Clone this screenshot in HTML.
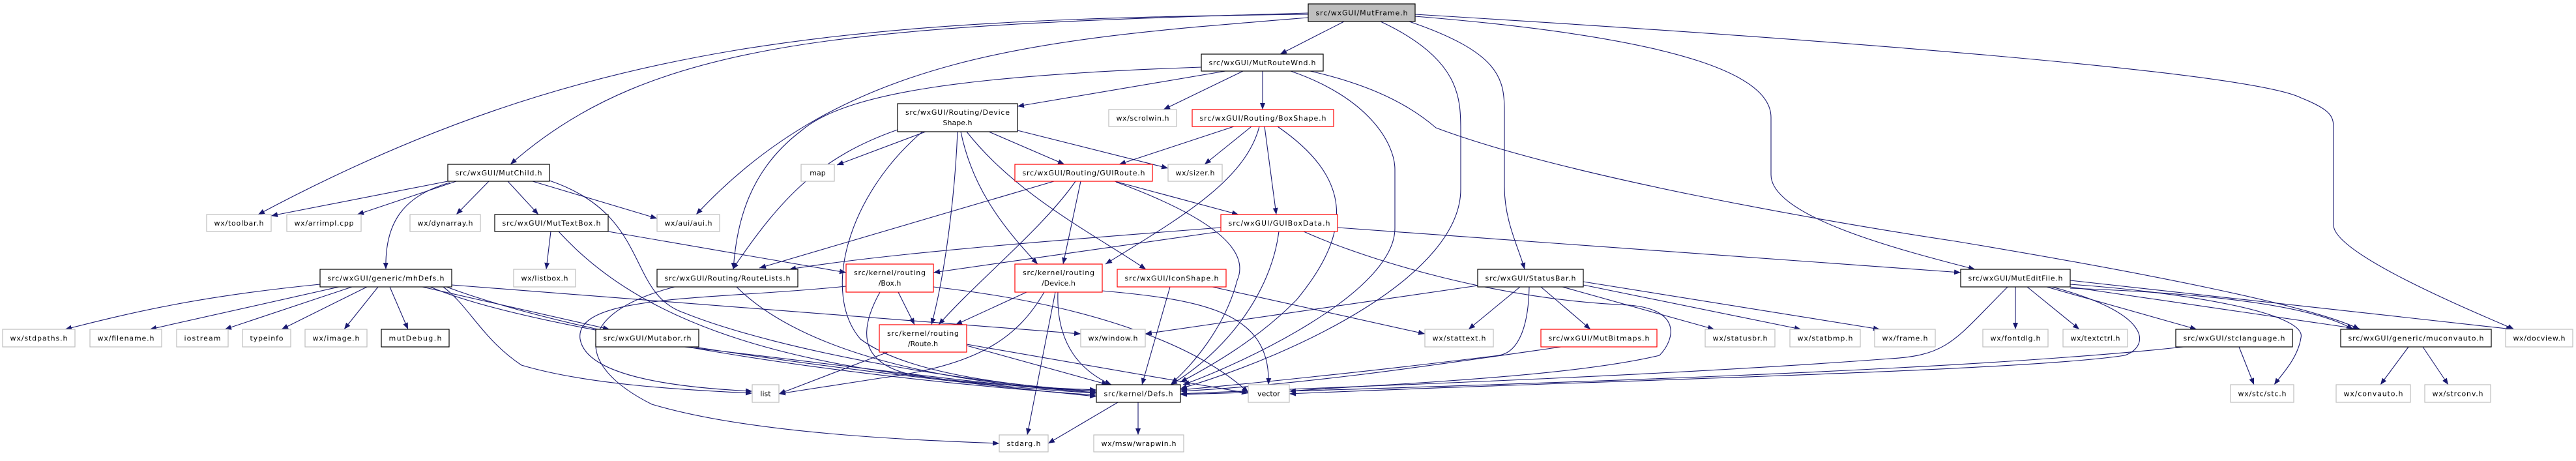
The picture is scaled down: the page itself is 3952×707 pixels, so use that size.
<!DOCTYPE html>
<html><head><meta charset="utf-8"><style>
html,body{margin:0;padding:0;background:#fff;width:3952px;height:707px;overflow:hidden}
svg text{font-family:"DejaVu Sans","Liberation Sans",sans-serif;font-size:11px;fill:#000}
.e{fill:none;stroke:#191970;stroke-width:1.1;marker-end:url(#a)}
.b{fill:#fff;stroke:#000;stroke-width:1.2}
.g{fill:#fff;stroke:#bfbfbf;stroke-width:1.2}
.r{fill:#fff;stroke:#ff0000;stroke-width:1.2}
.m{fill:#bfbfbf;stroke:#000;stroke-width:1.2}
</style></head><body>
<svg width="3952" height="707" viewBox="0 0 3952 707" xmlns="http://www.w3.org/2000/svg">
<defs><marker id="a" markerWidth="10" markerHeight="8" refX="10" refY="4" orient="auto" markerUnits="userSpaceOnUse"><path d="M0,0 L10,4 L0,8 z" fill="#191970"/></marker></defs>
<g>
<!-- MutFrame edges -->
<path class="e" d="M2062,33 L1964,83"/>
<path class="e" d="M2007,20 C1300,40 1000,60 783,252"/>
<path class="e" d="M2007,22 C1300,30 900,60 396,329"/>
<path class="e" d="M2007,27 C1600,60 1300,80 1068,329"/>
<path class="e" d="M2118,33 C2240,90 2241,150 2241,200 L2241,290 C2241,420 2000,540 1811,596"/>
<path class="e" d="M2162,33 C2300,80 2308,120 2308,170 L2308,286 C2308,340 2330,380 2339,413"/>
<path class="e" d="M2171,25 C2600,60 2717,120 2717,180 L2717,268 C2717,330 2900,380 3030,413"/>
<path class="e" d="M2171,22 C2800,60 3450,110 3530,150 C3580,170 3580,180 3580,200 L3580,345 C3580,390 3800,480 3857,505"/>
<!-- MutRouteWnd -->
<path class="e" d="M1880,109 L1561,163"/>
<path class="e" d="M1843,103 C1500,115 1300,140 1230,200 C1150,260 1130,340 1125,413"/>
<path class="e" d="M1907,109 L1785,168"/>
<path class="e" d="M1937,109 L1937,168"/>
<path class="e" d="M1980,109 C2100,150 2140,220 2140,260 L2140,350 C2140,450 1900,560 1815,590"/>
<path class="e" d="M2010,109 C2080,125 2150,150 2203,196 C2400,270 2800,340 3000,370 C3300,420 3550,470 3620,505"/>
<!-- DeviceShape -->
<path class="e" d="M1420,202 L1284,253"/>
<path class="e" d="M1377,199 C1260,240 1200,300 1124,413"/>
<path class="e" d="M1469,202 C1465,300 1450,420 1429,498"/>
<path class="e" d="M1517,202 L1633,252"/>
<path class="e" d="M1561,200 L1792,258"/>
<path class="e" d="M1474,202 C1490,280 1530,340 1592,405"/>
<path class="e" d="M1483,202 C1560,300 1680,360 1758,413"/>
<path class="e" d="M1415,202 C1300,300 1260,450 1320,520 C1400,580 1600,595 1682,600"/>
<!-- BoxShape -->
<path class="e" d="M1893,194 L1717,252"/>
<path class="e" d="M1920,194 L1848,252"/>
<path class="e" d="M1932,194 C1910,280 1800,340 1696,405"/>
<path class="e" d="M1940,194 L1958,329"/>
<path class="e" d="M1960,194 C2070,270 2080,350 1989,460 C1930,520 1860,560 1811,586"/>
<!-- GUIRoute -->
<path class="e" d="M1617,278 L1165,411"/>
<path class="e" d="M1650,278 C1600,350 1500,430 1440,498"/>
<path class="e" d="M1658,278 L1631,405"/>
<path class="e" d="M1710,278 L1900,329"/>
<path class="e" d="M1712,279 C1850,330 1920,380 1898,430 C1880,500 1830,560 1797,588"/>
<!-- GUIBoxData -->
<path class="e" d="M1873,355 L1432,418"/>
<path class="e" d="M1873,349 C1600,370 1350,390 1211,413"/>
<path class="e" d="M2052,349 L3008,418"/>
<path class="e" d="M1962,355 C1950,450 1880,540 1796,590"/>
<path class="e" d="M2000,355 C2100,400 2300,460 2500,468 C2580,475 2570,520 2546,545 C2400,580 2100,590 1978,600"/>
<!-- Device -->
<path class="e" d="M1575,448 L1466,498"/>
<path class="e" d="M1602,448 C1560,520 1500,560 1350,580 L1195,604"/>
<path class="e" d="M1619,448 L1576,667"/>
<path class="e" d="M1623,448 C1620,530 1660,570 1705,590"/>
<path class="e" d="M1691,446 C1850,460 1950,480 1946,590"/>
<!-- IconShape -->
<path class="e" d="M1795,440 L1752,590"/>
<path class="e" d="M1860,440 L2186,512"/>
<!-- Box -->
<path class="e" d="M1378,448 L1403,498"/>
<path class="e" d="M1350,448 C1310,520 1330,560 1400,575 C1500,590 1600,598 1682,603"/>
<path class="e" d="M1298,439 C1100,460 880,450 890,520 C900,580 1050,595 1154,600"/>
<path class="e" d="M1432,440 C1700,470 1850,540 1915,602"/>
<!-- RouteLists -->
<path class="e" d="M1035,440 C880,480 880,560 1000,620 C1150,665 1400,675 1533,680"/>
<path class="e" d="M1130,440 C1230,540 1450,590 1682,600"/>
<!-- MutTextBox -->
<path class="e" d="M845,355 L838,413"/>
<path class="e" d="M933,355 L1298,418"/>
<path class="e" d="M857,355 C980,490 1200,580 1682,598"/>
<!-- MutChild -->
<path class="e" d="M687,278 L416,331"/>
<path class="e" d="M700,278 L548,329"/>
<path class="e" d="M750,278 L700,329"/>
<path class="e" d="M779,278 L826,329"/>
<path class="e" d="M817,278 L1008,335"/>
<path class="e" d="M690,280 C620,300 590,340 592,413"/>
<path class="e" d="M843,277 C1000,330 960,450 1050,480 C1200,540 1500,590 1682,600"/>
<!-- mhDefs -->
<path class="e" d="M491,436 C300,455 200,480 100,505"/>
<path class="e" d="M520,440 L230,505"/>
<path class="e" d="M540,440 L345,505"/>
<path class="e" d="M563,440 L432,505"/>
<path class="e" d="M580,440 L528,505"/>
<path class="e" d="M598,440 L626,505"/>
<path class="e" d="M648,440 L935,505"/>
<path class="e" d="M693,437 L1658,512"/>
<path class="e" d="M680,440 C720,470 740,520 800,560 C900,590 1050,598 1154,603"/>
<path class="e" d="M685,440 C900,520 1300,580 1682,606"/>
<path class="e" d="M660,440 C800,500 1200,560 1682,608"/>
<path class="e" d="M1050,532 C1300,560 1500,590 1682,602"/>
<!-- Route -->
<path class="e" d="M1362,540 L1195,604"/>
<path class="e" d="M1483,530 L1700,590"/>
<path class="e" d="M1483,528 L1915,603"/>
<!-- Defs -->
<path class="e" d="M1715,617 L1608,680"/>
<path class="e" d="M1746,617 L1746,667"/>
<!-- StatusBar -->
<path class="e" d="M2267,438 L1757,512"/>
<path class="e" d="M2332,440 L2253,505"/>
<path class="e" d="M2346,440 C2345,500 2330,540 2300,545 C2100,570 1900,590 1811,598"/>
<path class="e" d="M2364,440 L2440,505"/>
<path class="e" d="M2397,440 L2630,505"/>
<path class="e" d="M2429,437 L2763,505"/>
<path class="e" d="M2429,432 L2884,505"/>
<path class="e" d="M2395,532 C2200,560 2000,590 1811,600"/>
<!-- MutEditFile -->
<path class="e" d="M3080,440 C3000,520 2990,545 2900,550 C2500,580 2000,595 1811,604"/>
<path class="e" d="M3092,440 L3092,505"/>
<path class="e" d="M3110,440 L3190,505"/>
<path class="e" d="M3140,440 L3370,505"/>
<path class="e" d="M3148,440 C3300,480 3300,530 3260,545 C3100,570 2400,585 1978,604"/>
<path class="e" d="M3176,436 C3350,448 3540,480 3530,518 C3525,550 3500,575 3489,590"/>
<path class="e" d="M3176,440 L3622,505"/>
<path class="e" d="M3176,442 C3400,450 3550,470 3610,505"/>
<path class="e" d="M3176,430 L3855,505"/>
<path class="e" d="M3435,532 L3458,590"/>
<path class="e" d="M3350,532 C3000,570 2300,590 1811,605"/>
<path class="e" d="M3695,532 L3652,590"/>
<path class="e" d="M3717,532 L3756,590"/>
</g>
<g>
<rect class="m" x="2007" y="6" width="164" height="27"/><text x="2089" y="23.5" text-anchor="middle" textLength="141">src/wxGUI/MutFrame.h</text>
<rect class="b" x="1843" y="83" width="187" height="26"/><text x="1936.5" y="100" text-anchor="middle" textLength="164">src/wxGUI/MutRouteWnd.h</text>
<rect class="b" x="687" y="252" width="156" height="26"/><text x="765" y="269" text-anchor="middle" textLength="133">src/wxGUI/MutChild.h</text>
<rect class="g" x="317" y="329" width="99" height="26"/><text x="366.5" y="346" text-anchor="middle" textLength="76">wx/toolbar.h</text>
<rect class="g" x="440" y="329" width="114" height="26"/><text x="497" y="346" text-anchor="middle" textLength="91">wx/arrimpl.cpp</text>
<rect class="g" x="629" y="329" width="108" height="26"/><text x="683" y="346" text-anchor="middle" textLength="85">wx/dynarray.h</text>
<rect class="b" x="759" y="329" width="174" height="26"/><text x="846" y="346" text-anchor="middle" textLength="151">src/wxGUI/MutTextBox.h</text>
<rect class="g" x="1008" y="329" width="96" height="26"/><text x="1056" y="346" text-anchor="middle" textLength="73">wx/aui/aui.h</text>
<rect class="b" x="491" y="413" width="202" height="27"/><text x="592" y="430.5" text-anchor="middle" textLength="179">src/wxGUI/generic/mhDefs.h</text>
<rect class="g" x="788" y="413" width="95" height="27"/><text x="835.5" y="430.5" text-anchor="middle" textLength="72">wx/listbox.h</text>
<rect class="b" x="1008" y="413" width="216" height="27"/><text x="1116" y="430.5" text-anchor="middle" textLength="193">src/wxGUI/Routing/RouteLists.h</text>
<rect class="r" x="1298" y="405" width="134" height="43"/><text x="1365" y="422" text-anchor="middle" textLength="110">src/kernel/routing</text><text x="1365" y="438" text-anchor="middle">/Box.h</text>
<rect class="b" x="914" y="505" width="158" height="27"/><text x="993" y="522.5" text-anchor="middle" textLength="135">src/wxGUI/Mutabor.rh</text>
<rect class="r" x="1349" y="498" width="134" height="42"/><text x="1416" y="515" text-anchor="middle" textLength="110">src/kernel/routing</text><text x="1416" y="531" text-anchor="middle">/Route.h</text>
<rect class="g" x="1154" y="590" width="41" height="27"/><text x="1174.5" y="607.5" text-anchor="middle">list</text>
<rect class="b" x="1377" y="159" width="184" height="43"/><text x="1469" y="176" text-anchor="middle" textLength="160">src/wxGUI/Routing/Device</text><text x="1469" y="192" text-anchor="middle">Shape.h</text>
<rect class="g" x="1229" y="252" width="51" height="26"/><text x="1254.5" y="269" text-anchor="middle">map</text>
<rect class="g" x="1701" y="168" width="104" height="26"/><text x="1753" y="185" text-anchor="middle" textLength="81">wx/scrolwin.h</text>
<rect class="r" x="1829" y="168" width="217" height="26"/><text x="1937.5" y="185" text-anchor="middle" textLength="194">src/wxGUI/Routing/BoxShape.h</text>
<rect class="r" x="1557" y="252" width="211" height="26"/><text x="1662.5" y="269" text-anchor="middle" textLength="188">src/wxGUI/Routing/GUIRoute.h</text>
<rect class="g" x="1792" y="252" width="83" height="26"/><text x="1833.5" y="269" text-anchor="middle" textLength="60">wx/sizer.h</text>
<rect class="r" x="1873" y="329" width="179" height="26"/><text x="1962.5" y="346" text-anchor="middle" textLength="156">src/wxGUI/GUIBoxData.h</text>
<rect class="r" x="1557" y="405" width="134" height="43"/><text x="1624" y="422" text-anchor="middle" textLength="110">src/kernel/routing</text><text x="1624" y="438" text-anchor="middle">/Device.h</text>
<rect class="r" x="1714" y="413" width="167" height="27"/><text x="1797.5" y="430.5" text-anchor="middle" textLength="144">src/wxGUI/IconShape.h</text>
<rect class="g" x="1658" y="505" width="99" height="27"/><text x="1707.5" y="522.5" text-anchor="middle" textLength="76">wx/window.h</text>
<rect class="b" x="1682" y="590" width="129" height="27"/><text x="1746.5" y="607.5" text-anchor="middle" textLength="106">src/kernel/Defs.h</text>
<rect class="g" x="1915" y="590" width="63" height="27"/><text x="1946.5" y="607.5" text-anchor="middle">vector</text>
<rect class="g" x="1533" y="667" width="75" height="26"/><text x="1570.5" y="684" text-anchor="middle" textLength="52">stdarg.h</text>
<rect class="g" x="1678" y="667" width="138" height="26"/><text x="1747" y="684" text-anchor="middle" textLength="115">wx/msw/wrapwin.h</text>
<rect class="b" x="2267" y="413" width="162" height="27"/><text x="2348" y="430.5" text-anchor="middle" textLength="139">src/wxGUI/StatusBar.h</text>
<rect class="g" x="2186" y="505" width="105" height="27"/><text x="2238.5" y="522.5" text-anchor="middle" textLength="82">wx/stattext.h</text>
<rect class="r" x="2364" y="505" width="178" height="27"/><text x="2453" y="522.5" text-anchor="middle" textLength="155">src/wxGUI/MutBitmaps.h</text>
<rect class="g" x="2616" y="505" width="107" height="27"/><text x="2669.5" y="522.5" text-anchor="middle" textLength="84">wx/statusbr.h</text>
<rect class="g" x="2746" y="505" width="108" height="27"/><text x="2800" y="522.5" text-anchor="middle" textLength="85">wx/statbmp.h</text>
<rect class="g" x="2876" y="505" width="93" height="27"/><text x="2922.5" y="522.5" text-anchor="middle" textLength="70">wx/frame.h</text>
<rect class="b" x="3008" y="413" width="168" height="27"/><text x="3092" y="430.5" text-anchor="middle" textLength="145">src/wxGUI/MutEditFile.h</text>
<rect class="g" x="3042" y="505" width="100" height="27"/><text x="3092" y="522.5" text-anchor="middle" textLength="77">wx/fontdlg.h</text>
<rect class="g" x="3165" y="505" width="99" height="27"/><text x="3214.5" y="522.5" text-anchor="middle" textLength="76">wx/textctrl.h</text>
<rect class="b" x="3338" y="505" width="179" height="27"/><text x="3427.5" y="522.5" text-anchor="middle" textLength="156">src/wxGUI/stclanguage.h</text>
<rect class="b" x="3591" y="505" width="231" height="27"/><text x="3706.5" y="522.5" text-anchor="middle" textLength="208">src/wxGUI/generic/muconvauto.h</text>
<rect class="g" x="3844" y="505" width="103" height="27"/><text x="3895.5" y="522.5" text-anchor="middle" textLength="80">wx/docview.h</text>
<rect class="g" x="3422" y="590" width="97" height="27"/><text x="3470.5" y="607.5" text-anchor="middle" textLength="74">wx/stc/stc.h</text>
<rect class="g" x="3584" y="590" width="114" height="27"/><text x="3641" y="607.5" text-anchor="middle" textLength="91">wx/convauto.h</text>
<rect class="g" x="3720" y="590" width="101" height="27"/><text x="3770.5" y="607.5" text-anchor="middle" textLength="78">wx/strconv.h</text>
<rect class="g" x="4" y="505" width="111" height="27"/><text x="59.5" y="522.5" text-anchor="middle" textLength="88">wx/stdpaths.h</text>
<rect class="g" x="138" y="505" width="110" height="27"/><text x="193" y="522.5" text-anchor="middle" textLength="87">wx/filename.h</text>
<rect class="g" x="271" y="505" width="79" height="27"/><text x="310.5" y="522.5" text-anchor="middle" textLength="56">iostream</text>
<rect class="g" x="372" y="505" width="74" height="27"/><text x="409" y="522.5" text-anchor="middle" textLength="51">typeinfo</text>
<rect class="g" x="468" y="505" width="95" height="27"/><text x="515.5" y="522.5" text-anchor="middle" textLength="72">wx/image.h</text>
<rect class="b" x="585" y="505" width="104" height="27"/><text x="637" y="522.5" text-anchor="middle" textLength="81">mutDebug.h</text>
</g>
</svg>
</body></html>
